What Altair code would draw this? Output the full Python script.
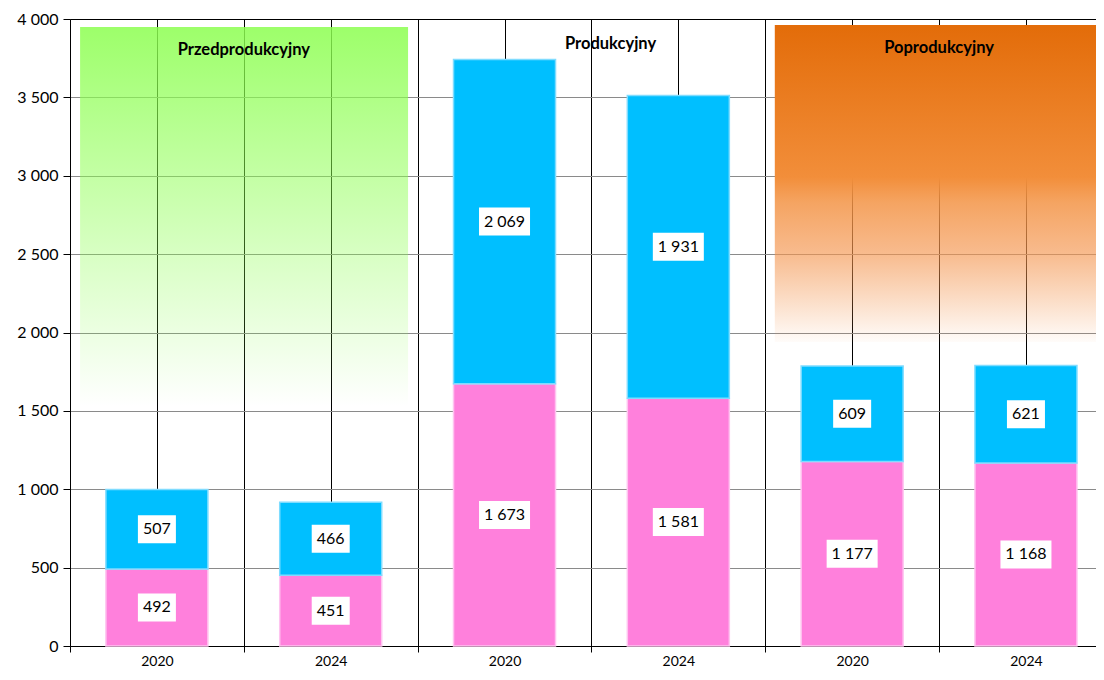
import json
import altair as alt
import pandas as pd

# ---- data ----
group_names = ["Przedprodukcyjny", "Produkcyjny", "Poprodukcyjny"]
year_labels = ["2020", "2024", "2020", "2024", "2020", "2024"]
lower_values = [492, 451, 1673, 1581, 1177, 1168]
upper_values = [507, 466, 2069, 1931, 609, 621]
series_names = ["dolna", "górna"]
y_ticks = [0, 500, 1000, 1500, 2000, 2500, 3000, 3500, 4000]

rows = []
for i, (lo, up) in enumerate(zip(lower_values, upper_values)):
    rows.append({"pos": i + 0.5, "series": series_names[0], "order": 0, "value": lo})
    rows.append({"pos": i + 0.5, "series": series_names[1], "order": 1, "value": up})
bars_df = pd.DataFrame(rows)

titles_df = pd.DataFrame({"name": group_names, "x": [1.0, 3.11, 5.0], "y": [3804, 3842, 3816]})
green_df = pd.DataFrame({"x0": [0.058], "x1": [1.945], "y0": [1528], "y1": [3949]})
orange_df = pd.DataFrame({"x0": [4.055], "x1": [5.903], "y0": [1940], "y1": [3962]})

FONT = "Lato"
PINK = "#FF80DC"
CYAN = "#00BFFF"

x_scale = alt.Scale(domain=[0, 5.903], nice=False, zero=False, padding=0)
y_scale = alt.Scale(domain=[0, 4000], nice=False, padding=0)

x_axis = alt.Axis(
    values=[k / 2 for k in range(12)],
    labelExpr="datum.value % 1 === 0.5 ? " + json.dumps(year_labels) + "[floor(datum.value)] : ''",
    title=None,
    tickSize=6,
    tickColor="black",
    tickOpacity={"condition": {"test": "datum.value % 1 === 0", "value": 1}, "value": 0},
    grid=True,
    gridColor="black",
    gridWidth=1,
    domainColor="black",
    labelFont=FONT,
    labelFontSize=14,
    labelColor="black",
    labelPadding=2,
    labelOverlap=False,
    labelFlush=False,
)
y_axis = alt.Axis(
    values=y_ticks,
    labelExpr="replace(format(datum.value, ','), ',', ' ')",
    title=None,
    tickSize=7,
    tickColor="black",
    domainColor="black",
    grid=True,
    gridColor={"condition": {"test": "datum.value === 4000", "value": "black"}, "value": "#8a8a8a"},
    gridWidth=1,
    labelFont=FONT,
    labelFontSize=16,
    labelColor="black",
    labelPadding=5,
    labelOverlap=False,
    minExtent=62,
    maxExtent=62,
)


def X(field):
    return alt.X(field, type="quantitative", scale=x_scale, axis=x_axis)


def Y(field):
    return alt.Y(field, type="quantitative", scale=y_scale, axis=y_axis)


green_bg = alt.Chart(green_df).mark_rect(
    fill=alt.Gradient(
        gradient="linear", x1=0, x2=0, y1=0, y2=1,
        stops=[
            alt.GradientStop(color="rgba(140,255,80,0.85)", offset=0),
            alt.GradientStop(color="rgba(140,255,80,0.0)", offset=1),
        ],
    ),
    clip=True,
).encode(x=X("x0"), x2="x1", y=Y("y0"), y2="y1")

orange_bg = alt.Chart(orange_df).mark_rect(
    fill=alt.Gradient(
        gradient="linear", x1=0, x2=0, y1=0, y2=1,
        stops=[
            alt.GradientStop(color="rgba(227,108,9,1)", offset=0),
            alt.GradientStop(color="rgba(242,142,58,1)", offset=0.48),
            alt.GradientStop(color="rgba(243,148,70,0.85)", offset=0.56),
            alt.GradientStop(color="rgba(244,150,80,0.65)", offset=0.72),
            alt.GradientStop(color="rgba(244,150,80,0.03)", offset=1),
        ],
    ),
    clip=True,
).encode(x=X("x0"), x2="x1", y=Y("y0"), y2="y1")

stacked = alt.Chart(bars_df).transform_stack(
    stack="value", groupby=["pos"], as_=["y0", "y1"], sort=[alt.SortField("order")]
).transform_calculate(
    mid="(datum.y0 + datum.y1) / 2",
    label="replace(format(datum.value, ','), ',', ' ')",
)

bars = stacked.mark_bar(size=102, strokeWidth=1.5).encode(
    x=X("pos"),
    y=Y("y0"),
    y2="y1",
    fill=alt.Fill("series:N", scale=alt.Scale(domain=series_names, range=[PINK, CYAN]), legend=None),
    stroke=alt.Stroke("series:N", scale=alt.Scale(domain=series_names, range=["#FFC4F0", "#7FDCFF"]), legend=None),
)

boxes = stacked.mark_tick(orient="horizontal", thickness=28, color="white", opacity=1).encode(
    x=X("pos"),
    y=Y("mid"),
    size=alt.condition("length(datum.label) > 3", alt.value(51), alt.value(38)),
)

labels = stacked.mark_text(font=FONT, fontSize=16, color="black", baseline="middle", align="center").encode(
    x=X("pos"),
    y=Y("mid"),
    text="label:N",
)

titles = alt.Chart(titles_df).mark_text(
    font=FONT, fontSize=16.5, fontWeight="bold", color="black", baseline="middle", align="center"
).encode(x=X("x"), y=Y("y"), text="name:N")

chart = alt.layer(green_bg, orange_bg, bars, boxes, labels, titles).properties(
    width=1026,
    height=627,
    padding={"left": 0, "top": 3, "right": 0, "bottom": 0},
    background="white",
).configure_view(stroke=None)

chart.save("out.html", embed_options={"renderer": "svg", "actions": False})
